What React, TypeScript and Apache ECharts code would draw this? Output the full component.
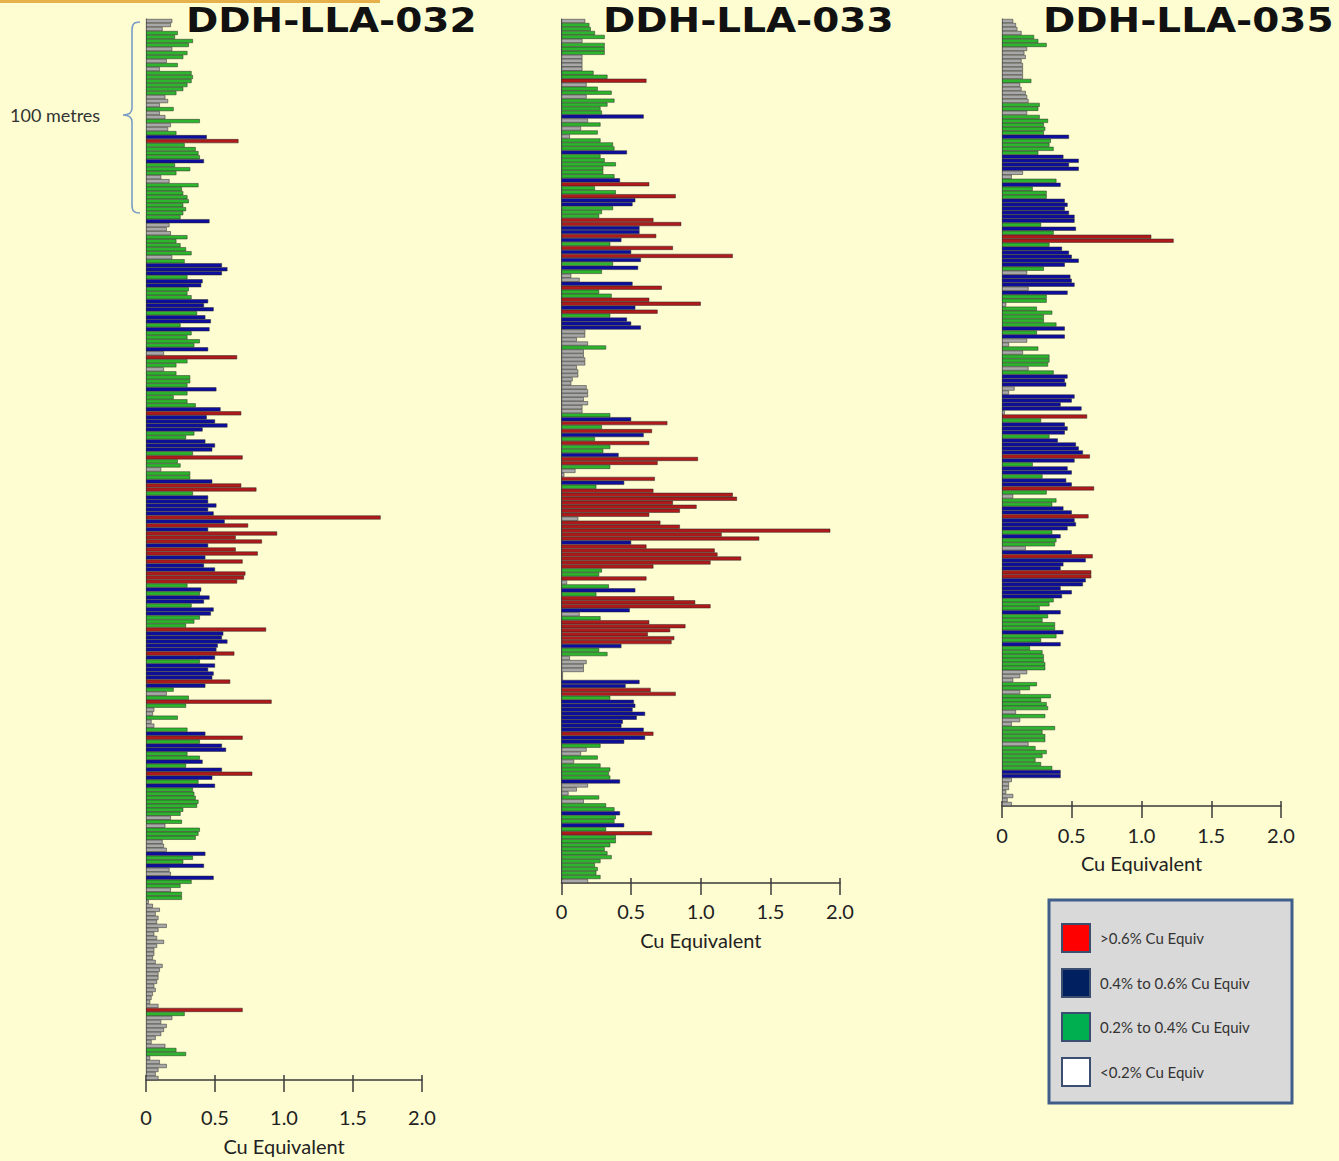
import React, { useEffect, useRef } from "react";
import * as echarts from "echarts";

// ---------- DATA ----------
const holeNames = ["DDH-LLA-032", "DDH-LLA-033", "DDH-LLA-035"];

const hole032 = [
  0.19, 0.18, 0.12, 0.23, 0.21, 0.34, 0.31, 0.19, 0.30, 0.27,
  0.15, 0.23, 0.10, 0.33, 0.34, 0.33, 0.30, 0.27, 0.22, 0.14,
  0.16, 0.10, 0.20, 0.10, 0.14, 0.39, 0.18, 0.16, 0.22, 0.44,
  0.67, 0.28, 0.36, 0.38, 0.39, 0.42, 0.21, 0.32, 0.22, 0.11,
  0.17, 0.38, 0.26, 0.27, 0.30, 0.31, 0.27, 0.29, 0.27, 0.25,
  0.46, 0.17, 0.15, 0.18, 0.30, 0.22, 0.25, 0.29, 0.33, 0.19,
  0.28, 0.55, 0.59, 0.55,
  0.30, 0.41, 0.40, 0.31, 0.30, 0.33, 0.45, 0.42, 0.49, 0.37,
  0.43, 0.47, 0.25, 0.46, 0.33, 0.30, 0.39, 0.35, 0.45, 0.13,
  0.66, 0.30, 0.22, 0.13, 0.22, 0.32, 0.32, 0.30, 0.51, 0.30,
  0.20, 0.30, 0.36, 0.54, 0.69, 0.44, 0.50, 0.59, 0.41, 0.35,
  0.29, 0.43, 0.50, 0.48, 0.34, 0.70, 0.23, 0.25, 0.11, 0.32,
  0.32, 0.48, 0.69, 0.80, 0.34, 0.45, 0.45, 0.51, 0.45, 0.49,
  1.70, 0.57, 0.74, 0.45, 0.95, 0.65, 0.84, 0.45, 0.65, 0.81,
  0.43, 0.70, 0.42, 0.50, 0.72, 0.71, 0.66, 0.30, 0.40, 0.39,
  0.46, 0.42, 0.33, 0.49, 0.47, 0.39, 0.35, 0.29, 0.87, 0.56,
  0.55, 0.59, 0.52, 0.51, 0.64, 0.50, 0.39, 0.50, 0.45, 0.49,
  0.48, 0.61, 0.43, 0.20,
  0.15, 0.31, 0.91, 0.29, 0.06, 0.05, 0.23, 0.04, 0.06, 0.30,
  0.43, 0.70, 0.39, 0.55, 0.58, 0.30, 0.39, 0.41, 0.29, 0.55,
  0.77, 0.48, 0.38, 0.50, 0.34, 0.35, 0.36, 0.38, 0.37, 0.27,
  0.25, 0.18, 0.26, 0.14, 0.39, 0.38, 0.36, 0.12, 0.13, 0.15,
  0.43, 0.34, 0.27, 0.42, 0.17, 0.18, 0.49, 0.33, 0.25,
  0.18, 0.26, 0.26, 0.02, 0.05, 0.10, 0.07, 0.09, 0.08, 0.15,
  0.09, 0.06, 0.08, 0.13, 0.08, 0.06, 0.06, 0.05, 0.07, 0.12,
  0.10, 0.09, 0.09, 0.08, 0.06, 0.07, 0.05, 0.04, 0.03, 0.09,
  0.70, 0.28, 0.19, 0.11, 0.15, 0.13, 0.11, 0.07, 0.04, 0.14,
  0.22, 0.29, 0.03, 0.10, 0.15, 0.09, 0.07, 0.09,
];

const hole033 = [
  0.17, 0.20, 0.21, 0.24, 0.31, 0.15, 0.31, 0.31, 0.31, 0.15,
  0.15, 0.15, 0.15, 0.23, 0.33, 0.61, 0.18, 0.26, 0.36, 0.18,
  0.38, 0.33, 0.28, 0.29, 0.59, 0.19, 0.28, 0.14, 0.26, 0.06,
  0.28, 0.37, 0.38, 0.47, 0.28, 0.31, 0.39, 0.30, 0.30, 0.38,
  0.42, 0.63, 0.24, 0.39, 0.82, 0.53, 0.51, 0.37, 0.29, 0.27,
  0.66, 0.86, 0.56, 0.56, 0.68, 0.43, 0.35, 0.80, 0.50, 1.23,
  0.57, 0.37, 0.55, 0.29, 0.07, 0.13, 0.51, 0.72, 0.27, 0.36,
  0.63, 1.00,
  0.53, 0.69, 0.35, 0.47, 0.50, 0.57, 0.17, 0.17, 0.11, 0.19,
  0.32, 0.16, 0.16, 0.17, 0.17, 0.11, 0.12, 0.12, 0.08, 0.07,
  0.18, 0.19, 0.19, 0.16, 0.19, 0.15, 0.15, 0.35, 0.50, 0.76,
  0.29, 0.65, 0.59, 0.24, 0.63, 0.35, 0.30, 0.41, 0.98, 0.69,
  0.35, 0.10, 0.02, 0.67, 0.45, 0.25, 0.66, 1.23, 1.26, 0.80,
  0.97, 0.85, 0.63, 0.12, 0.71, 0.85, 1.93, 1.15, 1.42, 0.50,
  0.61, 1.10, 1.12, 1.29, 1.07, 0.66, 0.29, 0.27, 0.61, 0.04,
  0.34, 0.53, 0.25, 0.81, 0.96, 1.07,
  0.49, 0.13, 0.28, 0.63, 0.89, 0.78, 0.62, 0.81, 0.79, 0.43,
  0.27, 0.33, 0.06, 0.18, 0.16, 0.16, 0.01, 0.01, 0.56, 0.46,
  0.64, 0.82, 0.35, 0.52, 0.53, 0.51, 0.60, 0.54, 0.44, 0.43,
  0.59, 0.66, 0.60, 0.45, 0.28, 0.18, 0.14, 0.26, 0.09, 0.28,
  0.35, 0.34, 0.35, 0.42, 0.19, 0.11, 0.05, 0.27, 0.16, 0.32,
  0.38, 0.42, 0.39, 0.38, 0.45, 0.32, 0.65, 0.39, 0.39, 0.35,
  0.31, 0.33, 0.36, 0.28, 0.24, 0.26, 0.25, 0.28, 0.19,
];

const hole035 = [
  0.08, 0.10, 0.11, 0.14, 0.23, 0.26, 0.32, 0.18, 0.16, 0.17,
  0.14, 0.15, 0.15, 0.15, 0.15, 0.21, 0.13, 0.14, 0.17, 0.18,
  0.19, 0.27, 0.26, 0.18, 0.27, 0.33, 0.30, 0.31, 0.30, 0.48,
  0.35, 0.34, 0.37, 0.26, 0.44, 0.55, 0.48, 0.55, 0.15, 0.07,
  0.39, 0.42, 0.22, 0.32, 0.32, 0.45, 0.47, 0.45, 0.48, 0.52,
  0.52, 0.28, 0.53, 0.37, 1.07, 1.23, 0.34, 0.43, 0.48, 0.50,
  0.55, 0.45, 0.30, 0.18, 0.49, 0.50, 0.52,
  0.19, 0.47, 0.32, 0.32, 0.03, 0.25, 0.36, 0.30, 0.30, 0.39,
  0.45, 0.25, 0.45, 0.18, 0.05, 0.26, 0.15, 0.34, 0.34, 0.33,
  0.19, 0.37, 0.47, 0.45, 0.46, 0.09, 0.05, 0.52, 0.50, 0.42,
  0.57, 0.02, 0.61, 0.28, 0.45, 0.47, 0.45, 0.34, 0.40, 0.53,
  0.55, 0.58, 0.63, 0.52, 0.22, 0.47, 0.50, 0.29, 0.46, 0.50,
  0.66, 0.32, 0.08, 0.39, 0.36, 0.44, 0.50, 0.62, 0.52, 0.53,
  0.47, 0.36, 0.42, 0.39, 0.38, 0.17, 0.50, 0.65, 0.60, 0.44,
  0.42, 0.64, 0.64, 0.60, 0.58, 0.42, 0.50, 0.43, 0.37, 0.34,
  0.27, 0.42, 0.33, 0.29, 0.38, 0.38, 0.44, 0.39, 0.28, 0.42,
  0.20, 0.29, 0.30, 0.30, 0.31, 0.31, 0.18, 0.13, 0.08, 0.25,
  0.20, 0.13, 0.35, 0.28, 0.32, 0.33, 0.10, 0.31, 0.13, 0.07,
  0.38, 0.29, 0.31, 0.31, 0.19, 0.24, 0.32, 0.29, 0.24, 0.28,
  0.36, 0.42, 0.42, 0.07, 0.05, 0.05, 0.03, 0.08, 0.04, 0.07,
];

const holes = [hole032, hole033, hole035];
const xTickValues = [0, 0.5, 1.0, 1.5, 2.0];
const axisTitle = "Cu Equivalent";
const scaleNote = "100 metres";
const legendLabels = [">0.6% Cu Equiv", "0.4% to 0.6% Cu Equiv", "0.2% to 0.4% Cu Equiv", "<0.2% Cu Equiv"];

// ---------- STYLE / LAYOUT ----------
const BAR_RED = "#b01a1a";
const BAR_BLUE = "#0e0e9e";
const BAR_GREEN = "#2db62d";
const BAR_GRAY = "#a8a8a8";
const legendColors = ["#ff0000", "#002060", "#00b050", "#ffffff"];

function gradeColor(v: number) {
  if (v > 0.6) return BAR_RED;
  if (v >= 0.4) return BAR_BLUE;
  if (v >= 0.2) return BAR_GREEN;
  return BAR_GRAY;
}

const layouts = [
  { left: 146, width: 276, top: 19, bottom: 1087, labelMargin: 27, nameGap: 56, titleX: 186 },
  { left: 561.5, width: 278.5, top: 19, bottom: 883, labelMargin: 18, nameGap: 47, titleX: 603 },
  { left: 1002, width: 279, top: 19, bottom: 806, labelMargin: 19, nameGap: 47, titleX: 1043 },
];

const AXIS_COLOR = "#3a3a3a";
const TEXT_FONT = "Lato, 'Open Sans', sans-serif";

let braceRegistered = false;
function registerBrace() {
  if (braceRegistered) return;
  const d =
    "M140 22 C134 22 132 24 132 30 L132 108 C132 113 129 115 123 115 C129 115 132 117 132 122 L132 205 C132 211 134 213 140 213";
  echarts.graphic.registerShape("brace", echarts.graphic.extendPath(d, {}));
  braceRegistered = true;
}

export default function App() {
  const ref = useRef<HTMLDivElement>(null);

  useEffect(() => {
    if (!ref.current) return;
    registerBrace();
    const chart = echarts.init(ref.current, null, { renderer: "svg" });

    const grids = layouts.map((l) => ({
      left: l.left,
      top: l.top,
      width: l.width,
      height: l.bottom - l.top,
      containLabel: false,
    }));

    const xAxes: any[] = [];
    layouts.forEach((l, i) => {
      xAxes.push({
        type: "value",
        gridIndex: i,
        min: xTickValues[0],
        max: xTickValues[xTickValues.length - 1],
        interval: 0.5,
        position: "bottom",
        axisLine: { show: true, lineStyle: { color: AXIS_COLOR, width: 1.5 } },
        axisTick: { show: true, length: 12, lineStyle: { color: AXIS_COLOR, width: 1.5 } },
        splitLine: { show: false },
        axisLabel: {
          margin: l.labelMargin,
          fontSize: 20,
          fontFamily: TEXT_FONT,
          color: "#222",
          formatter: (v: number) => (v === 0 ? "0" : v.toFixed(1)),
        },
        name: axisTitle,
        nameLocation: "middle",
        nameGap: l.nameGap,
        nameTextStyle: { fontSize: 20, fontFamily: TEXT_FONT, color: "#222" },
      });
      xAxes.push({
        type: "value",
        gridIndex: i,
        min: xTickValues[0],
        max: xTickValues[xTickValues.length - 1],
        interval: 0.5,
        position: "bottom",
        axisLine: { show: false },
        axisTick: { show: true, inside: true, length: 5, lineStyle: { color: AXIS_COLOR, width: 1.5 } },
        axisLabel: { show: false },
        splitLine: { show: false },
      });
    });

    const yAxes = holes.map((h, i) => ({
      type: "category",
      gridIndex: i,
      inverse: true,
      data: h.map((_, k) => String(k + 1)),
      axisLine: { show: true, lineStyle: { color: "#555", width: 1 } },
      axisTick: { show: false },
      axisLabel: { show: false },
      splitLine: { show: false },
    }));

    const series = holes.map((h, i) => ({
      type: "bar",
      name: holeNames[i],
      xAxisIndex: i * 2,
      yAxisIndex: i,
      barCategoryGap: "0%",
      itemStyle: { borderColor: "#262626", borderWidth: 0.5 },
      data: h.map((v) => ({ value: v, itemStyle: { color: gradeColor(v) } })),
    }));

    const graphic: any[] = [
      { type: "rect", shape: { x: 0, y: 0, width: 380, height: 3 }, style: { fill: "#e6b04a" }, silent: true },
      { type: "brace", x: 0, y: 0, style: { stroke: "#7a9cc6", fill: "none", lineWidth: 1.6 }, silent: true },
      {
        type: "text",
        x: 10,
        y: 115,
        style: {
          text: scaleNote,
          font: `18px ${TEXT_FONT}`,
          fill: "#333",
          align: "left",
          textAlign: "left",
          verticalAlign: "middle",
          textVerticalAlign: "middle",
        },
      },
    ];
    layouts.forEach((l, i) => {
      graphic.push({
        type: "text",
        x: l.titleX,
        y: 21,
        scaleX: 1.18,
        style: {
          text: holeNames[i],
          font: "bold 33px 'DejaVu Sans', sans-serif",
          fill: "#111",
          align: "left",
          textAlign: "left",
          verticalAlign: "middle",
          textVerticalAlign: "middle",
        },
      });
    });
    // legend box
    graphic.push({
      type: "rect",
      shape: { x: 1049, y: 900, width: 243, height: 203 },
      style: { fill: "#d9d9d9", stroke: "#3f5f8a", lineWidth: 3 },
    });
    const legendYs = [938, 983, 1027, 1072];
    legendLabels.forEach((lab, k) => {
      graphic.push({
        type: "rect",
        shape: { x: 1062, y: legendYs[k] - 14, width: 28, height: 28 },
        style: { fill: legendColors[k], stroke: "#3b4e70", lineWidth: 2 },
      });
      graphic.push({
        type: "text",
        x: 1100,
        y: legendYs[k],
        style: {
          text: lab,
          font: `15px ${TEXT_FONT}`,
          fill: "#333",
          align: "left",
          textAlign: "left",
          verticalAlign: "middle",
          textVerticalAlign: "middle",
        },
      });
    });

    chart.setOption({
      animation: false,
      backgroundColor: "#fefdd1",
      grid: grids,
      xAxis: xAxes,
      yAxis: yAxes,
      series,
      graphic,
    });

    return () => chart.dispose();
  }, []);

  return (
    <div
      ref={ref}
      style={{ position: "absolute", left: 0, top: 0, width: 1339, height: 1161 }}
    />
  );
}
